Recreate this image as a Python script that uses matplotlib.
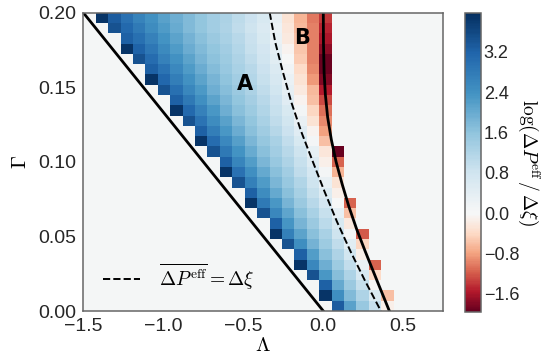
import numpy as np
import matplotlib
matplotlib.use("Agg")
import matplotlib.pyplot as plt
from matplotlib.colors import ListedColormap, Normalize

plt.rcParams['font.family'] = ['Liberation Sans', 'DejaVu Sans']
plt.rcParams['mathtext.fontset'] = 'cm'

# grid edges (29 x 29 cells)
LAM_EDGES = np.linspace(-1.5, 0.75, 30)
GAM_EDGES = np.linspace(0.0, 0.2, 30)

# log(dP_eff / dxi), row by row from the bottom; first valid column of each row
ROW_FIRST_COL = [20, 19, 19, 18, 17, 17, 16, 15, 15, 14, 13, 13, 12, 11, 11,
                 10, 9, 9, 8, 7, 7, 6, 5, 5, 4, 3, 3, 2, 1]
ROW_VALUES = [
    [3.3, 2.16, 1.52, 0.94, -0.15],
    [3.9, 2.46, 1.76, 1.24, 0.64, -0.6],
    [3.25, 2.02, 1.47, 0.95, -0.05],
    [3.45, 2.3, 1.69, 1.22, 0.68, -0.4],
    [3.9, 2.59, 1.94, 1.45, 0.98, 0.3, -1.15],
    [3.25, 2.22, 1.67, 1.24, 0.77, -0.15],
    [3.45, 2.46, 1.89, 1.45, 1.01, 0.45, -0.45],
    [3.9, 2.72, 2.14, 1.65, 1.27, 0.84, 0.1, -1.2],
    [3.25, 2.35, 1.86, 1.46, 1.06, 0.62, -0.2],
    [3.45, 2.6, 2.08, 1.64, 1.29, 0.9, 0.34, -0.6],
    [3.9, 2.84, 2.3, 1.84, 1.47, 1.12, 0.74, 0.0, -1.15],
    [3.25, 2.51, 2.04, 1.65, 1.33, 0.96, 0.53, -0.15],
    [3.45, 2.72, 2.25, 1.82, 1.5, 1.18, 0.84, 0.3, -0.3],
    [3.9, 2.95, 2.43, 2.01, 1.66, 1.36, 1.03, 0.7, 0.07, -0.7],
    [3.25, 2.63, 2.22, 1.82, 1.52, 1.23, 0.91, 0.5, -0.15, -1.15],
    [3.45, 2.83, 2.37, 1.99, 1.66, 1.39, 1.1, 0.81, 0.32, -0.25, -1.95],
    [3.9, 3.03, 2.56, 2.18, 1.82, 1.54, 1.27, 0.97, 0.65, 0.1, -0.6],
    [3.25, 2.73, 2.33, 1.97, 1.67, 1.41, 1.14, 0.87, 0.48, -0.1, -0.8],
    [3.45, 2.92, 2.49, 2.15, 1.81, 1.55, 1.3, 1.03, 0.77, 0.3, -0.3, -0.95],
    [3.9, 3.1, 2.66, 2.3, 1.96, 1.68, 1.44, 1.2, 0.93, 0.63, 0.12, -0.45, -1.1],
    [3.25, 2.82, 2.44, 2.13, 1.81, 1.57, 1.34, 1.09, 0.85, 0.48, -0.1, -0.6, -1.3],
    [3.45, 3.0, 2.6, 2.27, 1.96, 1.69, 1.47, 1.25, 1.0, 0.77, 0.36, -0.2, -0.65, -1.55],
    [3.9, 3.14, 2.75, 2.41, 2.12, 1.83, 1.6, 1.38, 1.16, 0.93, 0.67, 0.25, -0.3, -0.85, -1.8],
    [3.25, 2.93, 2.56, 2.26, 1.97, 1.72, 1.52, 1.31, 1.08, 0.87, 0.58, 0.13, -0.4, -0.95, -1.92],
    [3.45, 3.07, 2.7, 2.39, 2.12, 1.85, 1.63, 1.43, 1.23, 1.0, 0.8, 0.47, 0.0, -0.5, -1.0, -1.92],
    [3.9, 3.2, 2.85, 2.53, 2.25, 1.97, 1.74, 1.55, 1.36, 1.15, 0.94, 0.72, 0.37, -0.1, -0.55, -1.0, -1.75],
    [3.25, 3.0, 2.66, 2.37, 2.12, 1.87, 1.65, 1.47, 1.29, 1.08, 0.88, 0.64, 0.28, -0.2, -0.6, -1.0, -1.6],
    [3.45, 3.12, 2.8, 2.5, 2.25, 2.0, 1.77, 1.58, 1.4, 1.23, 1.02, 0.84, 0.58, 0.2, -0.25, -0.65, -1.0, -1.5],
    [3.9, 3.3, 2.95, 2.65, 2.4, 2.15, 1.95, 1.75, 1.55, 1.4, 1.25, 1.05, 0.85, 0.65, 0.3, -0.3, -0.67, -1.04, -1.4],
]

# boundary lines
LEFT_LAM = [-1.5, 0.0]
LEFT_GAM = [0.2, 0.0]
DASH_GAM = [0.20, 0.18, 0.16, 0.14, 0.12, 0.10, 0.08, 0.06, 0.04, 0.02, 0.00]
DASH_LAM = [-0.335, -0.300, -0.252, -0.200, -0.137, -0.065, 0.008, 0.085, 0.170, 0.262, 0.360]
SOLID_GAM = [0.200, 0.180, 0.160, 0.145, 0.130, 0.115, 0.100, 0.085, 0.070, 0.055, 0.040, 0.020, 0.000]
SOLID_LAM = [0.000, 0.001, 0.005, 0.013, 0.027, 0.050, 0.080, 0.118, 0.160, 0.208, 0.262, 0.337, 0.413]

VMIN, VMAX = -1.96, 3.98
CB_TICKS = [-1.6, -0.8, 0.0, 0.8, 1.6, 2.4, 3.2]

grid = np.full((len(GAM_EDGES) - 1, len(LAM_EDGES) - 1), np.nan)
for i, (j0, vals) in enumerate(zip(ROW_FIRST_COL, ROW_VALUES)):
    grid[i, j0:j0 + len(vals)] = vals
grid = np.ma.masked_invalid(grid)

# RdBu shifted so that white sits at zero
n_red = int(round(256 * (-VMIN) / (VMAX - VMIN)))
base = plt.get_cmap('RdBu')
cmap = ListedColormap(np.vstack([base(np.linspace(0.0, 0.5, n_red)),
                                 base(np.linspace(0.5, 1.0, 256 - n_red))]))
norm = Normalize(vmin=VMIN, vmax=VMAX)

fig = plt.figure(figsize=(5.52, 3.64), dpi=100)
ax = fig.add_axes([83.3 / 552, 53 / 364, 360 / 552, 298.3 / 364])
cax = fig.add_axes([465 / 552, 52.3 / 364, 16 / 552, 299 / 364])

ax.set_facecolor('#f4f6f6')
mesh = ax.pcolormesh(LAM_EDGES, GAM_EDGES, grid, cmap=cmap, norm=norm,
                     shading='flat', edgecolors='none', antialiased=False)

ax.plot(LEFT_LAM, LEFT_GAM, color='black', lw=2.0)
ax.plot(SOLID_LAM, SOLID_GAM, color='black', lw=2.0)
ax.plot(DASH_LAM, DASH_GAM, color='black', lw=1.4, ls='--',
        label=r'$\overline{\Delta P^{\rm eff}} = \Delta\xi$')

ax.text(-0.49, 0.152, 'A', fontsize=15, fontweight='bold',
        family='DejaVu Sans', ha='center', va='center')
ax.text(-0.13, 0.183, 'B', fontsize=15, fontweight='bold',
        family='DejaVu Sans', ha='center', va='center')

ax.set_xlim(-1.5, 0.75)
ax.set_ylim(0.0, 0.2)
ax.set_xticks([-1.5, -1.0, -0.5, 0.0, 0.5])
ax.set_yticks([0.0, 0.05, 0.10, 0.15, 0.20])
ax.tick_params(length=0, labelsize=14, pad=5, colors='#262626')
ax.set_xlabel(r'$\Lambda$', fontsize=15, labelpad=1)
ax.set_ylabel(r'$\Gamma$', fontsize=15, labelpad=6)
for sp in ax.spines.values():
    sp.set_color('#666666')
    sp.set_linewidth(1.1)

ax.legend(loc='lower left', frameon=False, fontsize=14, handlelength=1.9,
          handletextpad=1.0, borderaxespad=0.6)

cb = fig.colorbar(mesh, cax=cax, ticks=CB_TICKS)
cb.outline.set_edgecolor('#666666')
cb.outline.set_linewidth(1.1)
cb.ax.tick_params(length=0, pad=2, labelsize=13, colors='#262626')
cb.set_label(r'$\log(\Delta P^{\rm eff}\,/\,\Delta\xi)$', rotation=270,
             fontsize=14, labelpad=16)

fig.savefig('out.png', dpi=100)
